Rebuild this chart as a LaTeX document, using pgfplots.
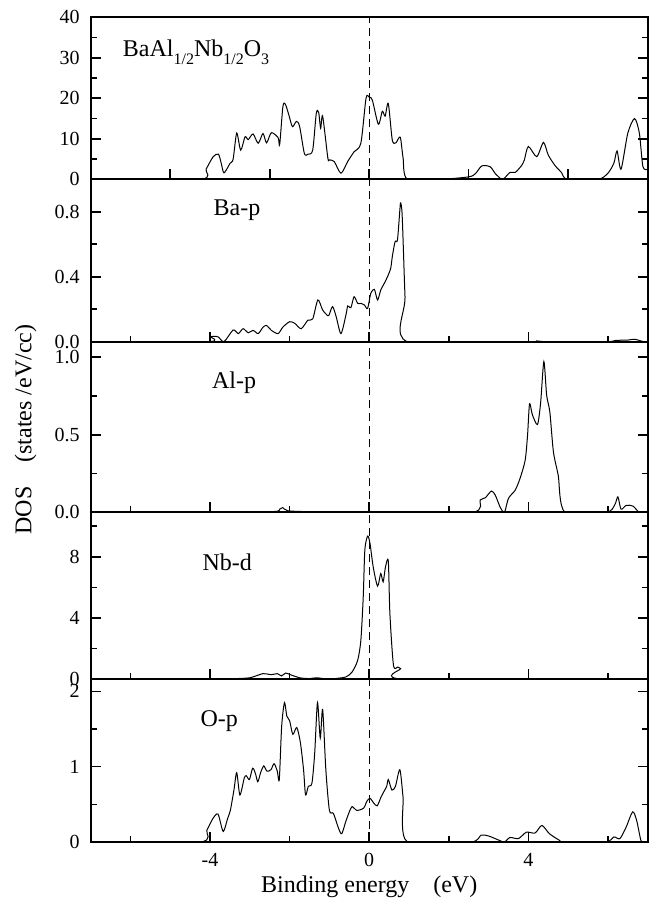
\documentclass[border=0pt]{standalone}
\usepackage{fontspec}
\setmainfont{Liberation Serif}
\usepackage{pgfplots}
\pgfplotsset{compat=1.18}
\tikzset{plab/.style={anchor=base west, inner sep=0pt, font=\fontsize{12}{14}\selectfont}}
\begin{document}
\begin{tikzpicture}
\pgfplotsset{
  dospanel/.style={
    scale only axis, width=278.5pt,
    xmin=-7, xmax=7, ymin=0,
    tick align=inside,
    xtick pos=left, ytick pos=both,
    major tick length=5pt, minor tick length=3pt,
    axis line style={line width=1pt},
    every tick/.style={black, line width=0.8pt},
    xtick={-4,0,4}, minor xtick={-6,-2,2,6},
    xticklabels={}, 
    /pgf/number format/assume math mode=true,
    tick label style={font=\fontsize{10}{12}\selectfont},
    yticklabel style={xshift=-2pt},
    xticklabel style={yshift=-2pt},
    clip=true,
  },
  curve/.style={black, line width=0.5pt, smooth, tension=0.45},
  fermi/.style={black, line width=0.6pt, dash pattern=on 4pt off 2.5pt},
}
% Panel 1: total
\begin{axis}[dospanel, name=p1, height=81pt, ymax=40,
  xtick={-5,-2.5,0,2.5,5}, minor xtick={},
  ytick={0,10,20,30,40}, minor ytick={5,15,25,35},
  yticklabels={0,10,20,30,40}]
\addplot[curve] coordinates {(-7,0) (-4.25,0) (-4.1,2.5) (-3.92,5.6) (-3.79,6.2) (-3.72,4) (-3.65,1.6) (-3.5,3.9) (-3.42,5) (-3.33,11.4) (-3.23,7.2) (-3.12,10.5) (-3.04,9.8) (-2.92,11.2) (-2.79,8.9) (-2.67,11.3) (-2.58,9) (-2.46,11.5) (-2.29,10.3) (-2.25,8.6) (-2.17,17.9) (-2.11,18.6) (-2.02,15.9) (-1.93,13) (-1.83,14.3) (-1.75,13.1) (-1.63,6.4) (-1.54,6.2) (-1.42,7.2) (-1.33,16.3) (-1.27,16.5) (-1.22,12.6) (-1.17,15.6) (-1.04,5.3) (-1.0,4.8) (-0.88,4.4) (-0.71,1.5) (-0.54,4.4) (-0.38,6.8) (-0.21,8.9) (-0.08,20.0) (0,20.3) (0.08,19.5) (0.23,13.6) (0.33,16.8) (0.40,15.6) (0.48,18.7) (0.58,9.7) (0.67,9) (0.78,10.4) (0.85,5.4) (0.96,0) (1.8,0) (2.5,0.6) (2.67,1.4) (2.83,3.3) (3.04,3.1) (3.17,1.4) (3.33,0) (3.4,0.3) (3.54,1.7) (3.67,1.7) (3.83,3.4) (3.9,4.8) (4.0,8.1) (4.21,5.6) (4.38,9.1) (4.5,6) (4.67,3.4) (4.83,1.7) (4.98,0) (5.75,0) (6.0,1.5) (6.15,4.0) (6.23,7) (6.33,2.5) (6.5,11.4) (6.67,15) (6.79,11.4) (6.88,3.1) (7,2.5)};
\addplot[fermi] coordinates {(0,0) (0,40)};
\node[plab] at (axis cs:-6.2,30.2) {BaAl\raisebox{-4pt}{\fontsize{8}{9}\selectfont 1/2}Nb\raisebox{-4pt}{\fontsize{8}{9}\selectfont 1/2}O\raisebox{-4pt}{\fontsize{8}{9}\selectfont 3}};
\end{axis}
% Panel 2: Ba-p
\begin{axis}[dospanel, name=p2, at={(p1.south west)}, anchor=north west, height=81.2pt, ymax=1.0,
  ytick={0,0.4,0.8}, minor ytick={0.2,0.6},
  yticklabels={0.0,0.4,0.8}]
\addplot[curve] coordinates {(-7,0) (-4.05,0) (-3.98,0.03) (-3.8,0.03) (-3.65,0) (-3.42,0.072) (-3.29,0.05) (-3.17,0.08) (-3.04,0.055) (-2.92,0.07) (-2.79,0.05) (-2.67,0.089) (-2.58,0.1) (-2.46,0.07) (-2.29,0.05) (-2.17,0.09) (-2.0,0.123) (-1.87,0.113) (-1.71,0.08) (-1.54,0.133) (-1.42,0.14) (-1.29,0.257) (-1.17,0.195) (-1.04,0.16) (-1.0,0.17) (-0.92,0.216) (-0.83,0.154) (-0.71,0.05) (-0.58,0.17) (-0.54,0.22) (-0.46,0.21) (-0.38,0.277) (-0.29,0.236) (-0.21,0.236) (-0.12,0.226) (-0.04,0.205) (0.04,0.298) (0.13,0.322) (0.21,0.257) (0.29,0.318) (0.38,0.36) (0.46,0.40) (0.54,0.452) (0.58,0.523) (0.65,0.616) (0.71,0.626) (0.77,0.81) (0.79,0.855) (0.83,0.77) (0.90,0.277) (0.96,0) (4.0,0) (4.2,0.005) (4.5,0) (5.96,0) (6.2,0.008) (6.5,0.01) (6.67,0.015) (6.9,0) (7,0)};
\addplot[fermi] coordinates {(0,0) (0,1)};
\node[plab] at (axis cs:-3.92,0.78) {Ba-p};
\end{axis}
% Panel 3: Al-p
\begin{axis}[dospanel, name=p3, at={(p2.south west)}, anchor=north west, height=85.3pt, ymax=1.1,
  ytick={0,0.5,1.0}, minor ytick={0.25,0.75},
  yticklabels={0.0,0.5,1.0}]
\addplot[curve] coordinates {(-7,0) (-4.0,0) (-3.8,0.005) (-2.4,0.005) (-2.25,0.02) (-2.17,0.03) (-2.05,0.01) (-1.5,0.004) (0,0) (2.58,0) (2.79,0.079) (2.92,0.094) (3.07,0.137) (3.17,0.11) (3.29,0.034) (3.4,0) (3.5,0.09) (3.67,0.143) (3.79,0.218) (3.92,0.336) (3.98,0.497) (4.03,0.70) (4.1,0.63) (4.23,0.566) (4.31,0.711) (4.39,0.972) (4.46,0.754) (4.54,0.647) (4.63,0.39) (4.75,0.24) (4.92,0) (5.96,0) (6.17,0.047) (6.25,0.1) (6.33,0.02) (6.46,0.045) (6.63,0.04) (6.79,0) (7,0)};
\addplot[fermi] coordinates {(0,0) (0,1.1)};
\node[plab] at (axis cs:-3.96,0.80) {Al-p};
\end{axis}
% Panel 4: Nb-d
\begin{axis}[dospanel, name=p4, at={(p3.south west)}, anchor=north west, height=83.5pt, ymax=10.9,
  ytick={0,4,8}, minor ytick={2,6,10},
  yticklabels={0,4,8}]
\addplot[curve] coordinates {(-7,0) (-3.6,0) (-3.4,0.04) (-3.0,0.1) (-2.67,0.37) (-2.46,0.3) (-2.31,0.37) (-2.2,0.22) (-2.1,0.41) (-1.94,0.26) (-1.73,0.09) (-1.5,0.05) (-1.32,0.1) (-1.1,0.03) (-0.9,0.04) (-0.59,0.15) (-0.43,0.48) (-0.29,1.24) (-0.21,2.55) (-0.15,5.38) (-0.11,8.43) (-0.04,9.35) (0.02,8.87) (0.10,7.34) (0.21,6.08) (0.29,6.9) (0.35,6.36) (0.41,7.34) (0.48,7.71) (0.52,4.29) (0.61,0.92) (0.72,0.8) (0.79,0.7) (0.9,0) (6.5,0) (6.7,0.05) (7,0)};
\addplot[fermi] coordinates {(0,0) (0,10.9)};
\node[plab] at (axis cs:-4.2,7.1) {Nb-d};
\end{axis}
% Panel 5: O-p
\begin{axis}[dospanel, name=p5, at={(p4.south west)}, anchor=north west, height=81.35pt, ymax=2.16,
  ytick={0,1,2}, minor ytick={0.5,1.5},
  yticklabels={0,1,2}, xticklabels={-4,0,4}]
\addplot[curve] coordinates {(-7,0) (-4.26,0) (-4.08,0.156) (-3.93,0.31) (-3.8,0.37) (-3.67,0.14) (-3.56,0.31) (-3.49,0.42) (-3.40,0.69) (-3.33,0.92) (-3.25,0.625) (-3.14,0.85) (-3.09,0.88) (-3.01,0.83) (-2.93,0.98) (-2.86,0.91) (-2.80,0.80) (-2.73,0.92) (-2.65,1.01) (-2.57,0.94) (-2.47,0.96) (-2.39,1.04) (-2.31,0.94) (-2.26,0.83) (-2.20,1.54) (-2.13,1.85) (-2.07,1.67) (-2.0,1.61) (-1.92,1.43) (-1.82,1.52) (-1.73,1.32) (-1.65,0.96) (-1.60,0.625) (-1.53,0.74) (-1.44,0.78) (-1.37,1.18) (-1.30,1.85) (-1.23,1.38) (-1.17,1.76) (-1.09,0.96) (-1.0,0.42) (-0.9,0.38) (-0.77,0.18) (-0.69,0.11) (-0.59,0.27) (-0.50,0.40) (-0.43,0.47) (-0.31,0.42) (-0.14,0.45) (-0.06,0.54) (0.02,0.58) (0.11,0.52) (0.20,0.48) (0.30,0.60) (0.38,0.68) (0.44,0.74) (0.48,0.83) (0.57,0.69) (0.66,0.74) (0.77,0.96) (0.85,0.6) (0.96,0) (2.55,0) (2.81,0.09) (3.0,0.08) (3.28,0.02) (3.4,0) (3.54,0.06) (3.75,0.045) (3.95,0.13) (4.17,0.12) (4.34,0.22) (4.53,0.11) (4.79,0.02) (4.9,0) (5.94,0) (6.15,0.067) (6.3,0.045) (6.46,0.2) (6.62,0.4) (6.72,0.29) (6.83,0.02) (6.91,0) (7,0)};
\addplot[fermi] coordinates {(0,0) (0,2.16)};
\node[plab] at (axis cs:-4.25,1.53) {O-p};
\end{axis}
% axis titles
\node[anchor=base, font=\fontsize{12}{14}\selectfont] at ([yshift=-25pt]p5.south) {Binding energy\quad (eV)};
\path (p1.north west) -- (p5.south west) coordinate[pos=0.5] (ymid);
\node[rotate=90, font=\fontsize{12}{14}\selectfont] at ([xshift=-32.5pt]ymid) {DOS\quad (states /eV/cc)};
% bounding box to reference proportions
\pgfresetboundingbox
\path ([shift={(-45.35pt,-33pt)}]p5.south west) rectangle ([shift={(3.65pt,8.65pt)}]p1.north east);
\end{tikzpicture}
\end{document}
